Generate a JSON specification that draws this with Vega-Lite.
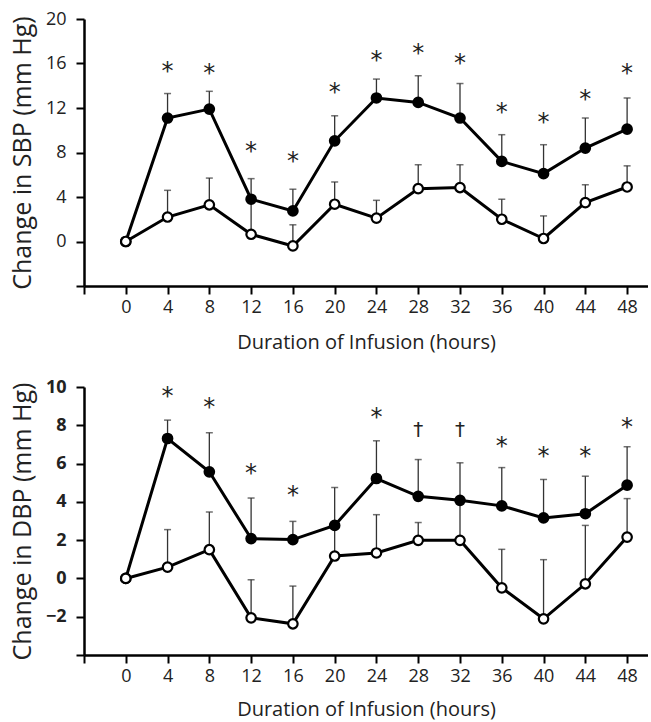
{
  "$schema": "https://vega.github.io/schema/vega-lite/v6.json",
  "padding": {"left": 10, "top": 10, "right": 0, "bottom": 2},
  "background": "white",
  "config": {
    "view": {"stroke": null},
    "font": "Open Sans",
    "axis": {
      "grid": false,
      "domainColor": "black",
      "domainWidth": 2.5,
      "tickColor": "black",
      "tickWidth": 2,
      "tickSize": 8,
      "labelColor": "#222",
      "titleColor": "#222",
      "labelFont": "Open Sans",
      "titleFont": "Open Sans",
      "labelFontSize": 18,
      "labelOverlap": false,
      "titleFontWeight": "normal"
    }
  },
  "datasets": {
    "sbp": [
      {"hour": 0, "group": "drug", "value": 0, "err": 0},
      {"hour": 4, "group": "drug", "value": 11.1, "err": 13.3},
      {"hour": 8, "group": "drug", "value": 11.9, "err": 13.5},
      {"hour": 12, "group": "drug", "value": 3.8, "err": 5.65},
      {"hour": 16, "group": "drug", "value": 2.75, "err": 4.7},
      {"hour": 20, "group": "drug", "value": 9.05, "err": 11.3},
      {"hour": 24, "group": "drug", "value": 12.9, "err": 14.6},
      {"hour": 28, "group": "drug", "value": 12.5, "err": 14.9},
      {"hour": 32, "group": "drug", "value": 11.1, "err": 14.2},
      {"hour": 36, "group": "drug", "value": 7.2, "err": 9.6},
      {"hour": 40, "group": "drug", "value": 6.1, "err": 8.7},
      {"hour": 44, "group": "drug", "value": 8.4, "err": 11.1},
      {"hour": 48, "group": "drug", "value": 10.1, "err": 12.9},
      {"hour": 0, "group": "placebo", "value": 0, "err": 0},
      {"hour": 4, "group": "placebo", "value": 2.2, "err": 4.6},
      {"hour": 8, "group": "placebo", "value": 3.3, "err": 5.7},
      {"hour": 12, "group": "placebo", "value": 0.65, "err": 3.5},
      {"hour": 16, "group": "placebo", "value": -0.4, "err": 1.5},
      {"hour": 20, "group": "placebo", "value": 3.35, "err": 5.35},
      {"hour": 24, "group": "placebo", "value": 2.1, "err": 3.7},
      {"hour": 28, "group": "placebo", "value": 4.75, "err": 6.9},
      {"hour": 32, "group": "placebo", "value": 4.85, "err": 6.9},
      {"hour": 36, "group": "placebo", "value": 2.0, "err": 3.8},
      {"hour": 40, "group": "placebo", "value": 0.27, "err": 2.3},
      {"hour": 44, "group": "placebo", "value": 3.5, "err": 5.1},
      {"hour": 48, "group": "placebo", "value": 4.9, "err": 6.8}
    ],
    "dbp": [
      {"hour": 0, "group": "drug", "value": 0, "err": 0},
      {"hour": 4, "group": "drug", "value": 7.31, "err": 8.27},
      {"hour": 8, "group": "drug", "value": 5.57, "err": 7.61},
      {"hour": 12, "group": "drug", "value": 2.08, "err": 4.2},
      {"hour": 16, "group": "drug", "value": 2.03, "err": 2.98},
      {"hour": 20, "group": "drug", "value": 2.77, "err": 4.75},
      {"hour": 24, "group": "drug", "value": 5.22, "err": 7.19},
      {"hour": 28, "group": "drug", "value": 4.29, "err": 6.21},
      {"hour": 32, "group": "drug", "value": 4.08, "err": 6.04},
      {"hour": 36, "group": "drug", "value": 3.79, "err": 5.79},
      {"hour": 40, "group": "drug", "value": 3.16, "err": 5.17},
      {"hour": 44, "group": "drug", "value": 3.38, "err": 5.34},
      {"hour": 48, "group": "drug", "value": 4.87, "err": 6.88},
      {"hour": 0, "group": "placebo", "value": 0, "err": 0},
      {"hour": 4, "group": "placebo", "value": 0.59, "err": 2.55},
      {"hour": 8, "group": "placebo", "value": 1.5, "err": 3.47},
      {"hour": 12, "group": "placebo", "value": -2.06, "err": -0.07},
      {"hour": 16, "group": "placebo", "value": -2.37, "err": -0.4},
      {"hour": 20, "group": "placebo", "value": 1.17, "err": 2.6},
      {"hour": 24, "group": "placebo", "value": 1.33, "err": 3.33},
      {"hour": 28, "group": "placebo", "value": 1.99, "err": 2.92},
      {"hour": 32, "group": "placebo", "value": 1.99, "err": 3.9},
      {"hour": 36, "group": "placebo", "value": -0.49, "err": 1.52},
      {"hour": 40, "group": "placebo", "value": -2.11, "err": 0.98},
      {"hour": 44, "group": "placebo", "value": -0.28, "err": 2.77},
      {"hour": 48, "group": "placebo", "value": 2.16, "err": 4.17}
    ],
    "sbpsig": [
      {"hour": 4, "symbol": "*", "pos": 16.0},
      {"hour": 8, "symbol": "*", "pos": 15.8},
      {"hour": 12, "symbol": "*", "pos": 8.8},
      {"hour": 16, "symbol": "*", "pos": 7.9},
      {"hour": 20, "symbol": "*", "pos": 14.1},
      {"hour": 24, "symbol": "*", "pos": 16.95},
      {"hour": 28, "symbol": "*", "pos": 17.55},
      {"hour": 32, "symbol": "*", "pos": 16.7},
      {"hour": 36, "symbol": "*", "pos": 12.3},
      {"hour": 40, "symbol": "*", "pos": 11.4},
      {"hour": 44, "symbol": "*", "pos": 13.4},
      {"hour": 48, "symbol": "*", "pos": 15.8}
    ],
    "dbpsig": [
      {"hour": 4, "symbol": "*", "pos": 9.88},
      {"hour": 8, "symbol": "*", "pos": 9.3},
      {"hour": 12, "symbol": "*", "pos": 5.86},
      {"hour": 16, "symbol": "*", "pos": 4.7},
      {"hour": 24, "symbol": "*", "pos": 8.8},
      {"hour": 28, "symbol": "†", "pos": 7.75},
      {"hour": 32, "symbol": "†", "pos": 7.75},
      {"hour": 36, "symbol": "*", "pos": 7.28},
      {"hour": 40, "symbol": "*", "pos": 6.74},
      {"hour": 44, "symbol": "*", "pos": 6.74},
      {"hour": 48, "symbol": "*", "pos": 8.27}
    ]
  },
  "vconcat": [
    {
      "width": 564,
      "height": 267,
      "encoding": {
        "x": {"field": "hour", "type": "quantitative", "scale": {"domain": [-4, 50], "nice": false},
          "axis": {"title": "Duration of Infusion (hours)", "labelFontSize": 18, "titleFontSize": 20, "labelPadding": 4, "titlePadding": 16, "labelOverlap": false, "values": [-4, 0, 4, 8, 12, 16, 20, 24, 28, 32, 36, 40, 44, 48], "labelExpr": "datum.value < 0 ? '' : datum.label"}},
        "y": {"field": "value", "type": "quantitative", "scale": {"domain": [-4, 20], "nice": false},
          "axis": {"title": "Change in SBP (mm Hg)", "labelFontSize": 18, "titleFontSize": 25, "labelPadding": 10, "titlePadding": 10, "labelOverlap": false, "values": [-4, 0, 4, 8, 12, 16, 20], "labelExpr": "datum.value < 0 ? '' : datum.label"}}
      },
      "layer": [
        {
          "data": {"name": "sbp"},
          "transform": [{"filter": "datum.hour > 0"}],
          "mark": {"type": "rule", "color": "#333", "strokeWidth": 1.3},
          "encoding": {"y2": {"field": "err"}}
        },
        {
          "data": {"name": "sbp"},
          "transform": [{"filter": "datum.hour > 0"}],
          "mark": {"type": "tick", "orient": "horizontal", "color": "#333", "size": 7, "thickness": 1.5},
          "encoding": {"y": {"field": "err", "type": "quantitative"}}
        },
        {
          "data": {"name": "sbp"},
          "mark": {"type": "line", "color": "black", "strokeWidth": 3},
          "encoding": {"detail": {"field": "group"}}
        },
        {
          "data": {"name": "sbp"},
          "mark": {"type": "point", "filled": true, "stroke": "black", "strokeWidth": 2.2, "size": 90, "opacity": 1, "shape": "circle"},
          "encoding": {
            "fill": {"field": "group", "type": "nominal", "scale": {"domain": ["drug", "placebo"], "range": ["black", "white"]}, "legend": null}
          }
        },
        {
          "data": {"name": "sbpsig"},
          "mark": {"type": "text", "fontSize": 24, "font": "DejaVu Sans", "color": "#222", "baseline": "alphabetic", "dy": 15},
          "encoding": {"y": {"field": "pos", "type": "quantitative"}, "text": {"field": "symbol"}}
        }
      ]
    },
    {
      "width": 564,
      "height": 268,
      "encoding": {
        "x": {"field": "hour", "type": "quantitative", "scale": {"domain": [-4, 50], "nice": false},
          "axis": {"title": "Duration of Infusion (hours)", "labelFontSize": 18, "titleFontSize": 20, "labelPadding": 4, "titlePadding": 14, "labelOverlap": false, "values": [-4, 0, 4, 8, 12, 16, 20, 24, 28, 32, 36, 40, 44, 48], "labelExpr": "datum.value < 0 ? '' : datum.label"}},
        "y": {"field": "value", "type": "quantitative", "scale": {"domain": [-4, 10], "nice": false},
          "axis": {"title": "Change in DBP (mm Hg)", "labelFontSize": 18, "titleFontSize": 25, "labelPadding": 10, "titlePadding": 10, "labelOverlap": false, "labelFontWeight": "bold", "values": [-4, -2, 0, 2, 4, 6, 8, 10], "labelExpr": "datum.value < -3 ? '' : datum.label"}}
      },
      "layer": [
        {
          "data": {"name": "dbp"},
          "transform": [{"filter": "datum.hour > 0"}],
          "mark": {"type": "rule", "color": "#333", "strokeWidth": 1.3},
          "encoding": {"y2": {"field": "err"}}
        },
        {
          "data": {"name": "dbp"},
          "transform": [{"filter": "datum.hour > 0"}],
          "mark": {"type": "tick", "orient": "horizontal", "color": "#333", "size": 7, "thickness": 1.5},
          "encoding": {"y": {"field": "err", "type": "quantitative"}}
        },
        {
          "data": {"name": "dbp"},
          "mark": {"type": "line", "color": "black", "strokeWidth": 3},
          "encoding": {"detail": {"field": "group"}}
        },
        {
          "data": {"name": "dbp"},
          "mark": {"type": "point", "filled": true, "stroke": "black", "strokeWidth": 2.2, "size": 90, "opacity": 1, "shape": "circle"},
          "encoding": {
            "fill": {"field": "group", "type": "nominal", "scale": {"domain": ["drug", "placebo"], "range": ["black", "white"]}, "legend": null}
          }
        },
        {
          "data": {"name": "dbpsig"},
          "transform": [{"filter": "datum.symbol === '*'"}],
          "mark": {"type": "text", "fontSize": 24, "font": "DejaVu Sans", "color": "#222", "baseline": "alphabetic", "dy": 15},
          "encoding": {"y": {"field": "pos", "type": "quantitative"}, "text": {"field": "symbol"}}
        },
        {
          "data": {"name": "dbpsig"},
          "transform": [{"filter": "datum.symbol !== '*'"}],
          "mark": {"type": "text", "fontSize": 20, "font": "DejaVu Sans", "color": "#222", "baseline": "alphabetic", "dy": 6},
          "encoding": {"y": {"field": "pos", "type": "quantitative"}, "text": {"field": "symbol"}}
        }
      ]
    }
  ],
  "spacing": 26
}
